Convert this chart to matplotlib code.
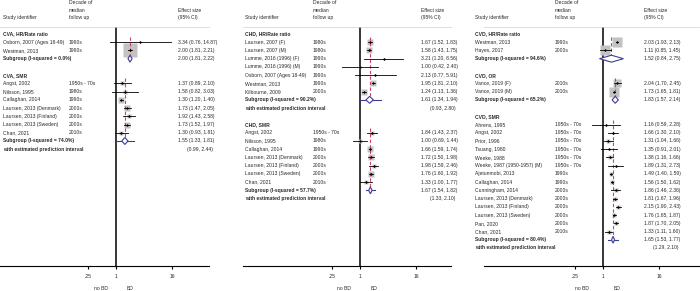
import numpy as np
import matplotlib
matplotlib.use("Agg")
import matplotlib.pyplot as plt
from matplotlib.transforms import blended_transform_factory

plt.rcParams['font.family'] = ['Liberation Sans', 'DejaVu Sans']

# ---- data: (study, decade of median follow up, ES, lower, upper, weight %) ----
cva_hr = [
    ("Osborn, 2007 (Ages 18-49)", "1990s", 3.34, 0.76, 14.87, 1),
    ("Westman, 2013", "1990s", 2.00, 1.81, 2.21, 99),
]
cva_hr_pooled = (2.00, 1.81, 2.22, "0.0%")
cva_hr_pi = None

cva_smr = [
    ("Angst, 2002", "1950s - 70s", 1.37, 0.89, 2.10, 9),
    ("Nilsson, 1995", "1980s", 1.58, 0.82, 3.03, 5),
    ("Callaghan, 2014", "1990s", 1.30, 1.20, 1.40, 23),
    ("Laursen, 2013 (Denmark)", "2000s", 1.73, 1.47, 2.05, 18),
    ("Laursen, 2013 (Finland)", "2000s", 1.92, 1.43, 2.58, 12),
    ("Laursen, 2013 (Sweden)", "2000s", 1.73, 1.52, 1.97, 20),
    ("Chan, 2021", "2010s", 1.30, 0.93, 1.81, 13),
]
cva_smr_pooled = (1.55, 1.33, 1.81, "74.0%")
cva_smr_pi = (0.99, 2.44)

chd_hr = [
    ("Laursen, 2007 (F)", "1980s", 1.67, 1.52, 1.83, 20),
    ("Laursen, 2007 (M)", "1980s", 1.58, 1.43, 1.75, 20),
    ("Lumme, 2016 (1996) (F)", "1990s", 3.21, 1.20, 8.56, 4),
    ("Lumme, 2016 (1996) (M)", "1990s", 1.00, 0.42, 2.40, 4),
    ("Osborn, 2007 (Ages 18-49)", "1990s", 2.13, 0.77, 5.91, 4),
    ("Westman, 2013", "1990s", 1.95, 1.81, 2.10, 25),
    ("Kilbourne, 2009", "2000s", 1.24, 1.13, 1.36, 23),
]
chd_hr_pooled = (1.61, 1.34, 1.94, "90.2%")
chd_hr_pi = (0.93, 2.80)

chd_smr = [
    ("Angst, 2002", "1950s - 70s", 1.84, 1.43, 2.37, 9),
    ("Nilsson, 1995", "1980s", 1.00, 0.69, 1.44, 7),
    ("Callaghan, 2014", "1990s", 1.66, 1.59, 1.74, 25),
    ("Laursen, 2013 (Denmark)", "2000s", 1.72, 1.50, 1.98, 17),
    ("Laursen, 2013 (Finland)", "2000s", 1.98, 1.59, 2.46, 10),
    ("Laursen, 2013 (Sweden)", "2000s", 1.76, 1.60, 1.92, 21),
    ("Chan, 2021", "2010s", 1.33, 1.00, 1.77, 11),
]
chd_smr_pooled = (1.67, 1.54, 1.82, "57.7%")
chd_smr_pi = (1.33, 2.10)

cvd_hr = [
    ("Westman, 2013", "1990s", 2.03, 1.93, 2.13, 55),
    ("Hayes, 2017", "2000s", 1.11, 0.85, 1.45, 45),
]
cvd_hr_pooled = (1.52, 0.84, 2.75, "94.6%")
cvd_hr_pi = None

cvd_or = [
    ("Vance, 2019 (F)", "2010s", 2.04, 1.70, 2.45, 40),
    ("Vance, 2019 (M)", "2010s", 1.73, 1.65, 1.81, 60),
]
cvd_or_pooled = (1.83, 1.57, 2.14, "65.2%")
cvd_or_pi = None

cvd_smr = [
    ("Ahrens, 1995", "1950s - 70s", 1.16, 0.59, 2.28, 2),
    ("Angst, 2002", "1950s - 70s", 1.66, 1.30, 2.10, 4),
    ("Prior, 1996", "1950s - 70s", 1.31, 1.04, 1.66, 5),
    ("Tsuang, 1980", "1950s - 70s", 1.35, 0.91, 2.01, 4),
    ("Weeke, 1988", "1950s - 70s", 1.38, 1.16, 1.66, 7),
    ("Weeke, 1987 (1950-1957) (M)", "1950s - 70s", 1.89, 1.31, 2.73, 4),
    ("Ajetunmobi, 2013", "1990s", 1.49, 1.40, 1.59, 12),
    ("Callaghan, 2014", "1990s", 1.56, 1.50, 1.62, 13),
    ("Cunningham, 2014", "2000s", 1.86, 1.46, 2.36, 5),
    ("Laursen, 2013 (Denmark)", "2000s", 1.81, 1.67, 1.96, 9),
    ("Laursen, 2013 (Finland)", "2000s", 2.15, 1.90, 2.43, 8),
    ("Laursen, 2013 (Sweden)", "2000s", 1.76, 1.65, 1.87, 11),
    ("Pan, 2020", "2000s", 1.87, 1.70, 2.05, 8),
    ("Chan, 2021", "2010s", 1.33, 1.11, 1.60, 8),
]
cvd_smr_pooled = (1.65, 1.53, 1.77, "80.4%")
cvd_smr_pi = (1.29, 2.10)

panel_groups = [
    [("CVA, HR/Rate ratio", cva_hr, cva_hr_pooled, cva_hr_pi),
     ("CVA, SMR", cva_smr, cva_smr_pooled, cva_smr_pi)],
    [("CHD, HR/Rate ratio", chd_hr, chd_hr_pooled, chd_hr_pi),
     ("CHD, SMR", chd_smr, chd_smr_pooled, chd_smr_pi)],
    [("CVD, HR/Rate ratio", cvd_hr, cvd_hr_pooled, cvd_hr_pi),
     ("CVD, OR", cvd_or, cvd_or_pooled, cvd_or_pi),
     ("CVD, SMR", cvd_smr, cvd_smr_pooled, cvd_smr_pi)],
]

# ---- layout (figure pixels) ----
W, H = 700, 291
ROW0, ROWH = 34, 8.23
TOP, BOTTOM = 27, 266
PX_PER_LN = 20.2
# axis left, axis right, x of "1", study col, decade col, effect col, no-BD offset
layouts = [
    (0, 209, 116, 3, 69, 178, -15),
    (243, 451, 360, 245, 313, 421, -16),
    (484, 699, 603, 475, 555, 644, -21),
]

FS = 3.6
TXT = '#2a2a2a'
SQ_COL = '#c2c2c2'
DIA_COL = '#3d3d94'
RED = '#cc4466'

fig = plt.figure(figsize=(W / 100, H / 100), dpi=100)


def row_of(py):
    return (py - ROW0) / ROWH


for groups, (x0, x1, xone, xs, xd, xe, nobd) in zip(panel_groups, layouts):
    ax = fig.add_axes([x0 / W, 1 - BOTTOM / H, (x1 - x0) / W, (BOTTOM - TOP) / H])
    ax.set_xscale('log')
    ax.set_xlim(np.exp((x0 - xone) / PX_PER_LN), np.exp((x1 - xone) / PX_PER_LN))
    ax.set_ylim(row_of(BOTTOM), row_of(TOP))
    tr = blended_transform_factory(fig.transFigure, ax.transData)

    def put(px, row, s, bold=False):
        ax.text(px / W, row, s, transform=tr, fontsize=FS, va='center', ha='left',
                fontweight='bold' if bold else 'normal', color=TXT)

    # headers
    for py, s in [(3, "Decade of"), (10.5, "median"), (18, "follow up")]:
        fig.text(xd / W, 1 - py / H, s, fontsize=FS, va='center', color=TXT)
    fig.text(xs / W, 1 - 18 / H, "Study identifier", fontsize=FS, va='center', color=TXT)
    fig.text(xe / W, 1 - 10.5 / H, "Effect size", fontsize=FS, va='center', color=TXT)
    fig.text(xe / W, 1 - 18 / H, "(95% CI)", fontsize=FS, va='center', color=TXT)

    r = 0
    for title, studies, pooled, pi in groups:
        put(xs, r, title, bold=True)
        r += 1
        first = r
        for name, dec, es, lo, hi, w in studies:
            put(xs, r, name)
            put(xd, r, dec)
            put(xe, r, f"{es:.2f} ({lo:.2f}, {hi:.2f})")
            side = 1.35 * np.sqrt(w) * 0.72
            ax.plot(es, r, marker='s', ms=side, color=SQ_COL, mec='none', zorder=2)
            ax.plot([lo, hi], [r, r], color='black', lw=0.6, zorder=4)
            ax.plot(es, r, marker='D', ms=1.5, color='black', mec='none', zorder=5)
            r += 1
        pes, plo, phi, i2 = pooled
        put(xs, r, f"Subgroup (I-squared = {i2})", bold=True)
        put(xe, r, f"{pes:.2f} ({plo:.2f}, {phi:.2f})")
        ax.plot([pes, pes], [first - 0.6, r - 0.42], color=RED, lw=0.8,
                ls=(0, (3, 2)), zorder=3)
        if pi is not None:
            ax.plot([pi[0], pi[1]], [r, r], color=DIA_COL, lw=0.8, zorder=5)
        ax.fill([plo, pes, phi, pes], [r, r - 0.42, r, r + 0.42], facecolor='white',
                edgecolor=DIA_COL, lw=0.8, zorder=6)
        r += 1
        if pi is not None:
            put(xs, r, "with estimated prediction interval", bold=True)
            put(xe + 9, r, f"({pi[0]:.2f}, {pi[1]:.2f})")
            r += 1
        r += 1

    ax.axvline(1, color='black', lw=1.1, zorder=1)
    for side in ['left', 'right']:
        ax.spines[side].set_visible(False)
    ax.spines['top'].set_color('#d0d0d0')
    ax.spines['top'].set_linewidth(0.5)
    ax.spines['bottom'].set_linewidth(0.8)
    ax.set_yticks([])
    ax.set_xticks([0.25, 1, 16])
    ax.set_xticklabels(['.25', '1', '16'])
    ax.xaxis.set_minor_locator(matplotlib.ticker.NullLocator())
    ax.tick_params(axis='x', direction='out', length=2.5, width=0.8, labelsize=FS, pad=3,
                   labelcolor=TXT)
    ax.annotate('no BD', xy=(1, 0), xycoords=('data', 'axes fraction'),
                xytext=(nobd * 0.72, -22 * 0.72), textcoords='offset points',
                ha='center', va='center', fontsize=FS, color=TXT)
    ax.annotate('BD', xy=(1, 0), xycoords=('data', 'axes fraction'),
                xytext=(14 * 0.72, -22 * 0.72), textcoords='offset points',
                ha='center', va='center', fontsize=FS, color=TXT)

fig.savefig('out.png', dpi=100)
